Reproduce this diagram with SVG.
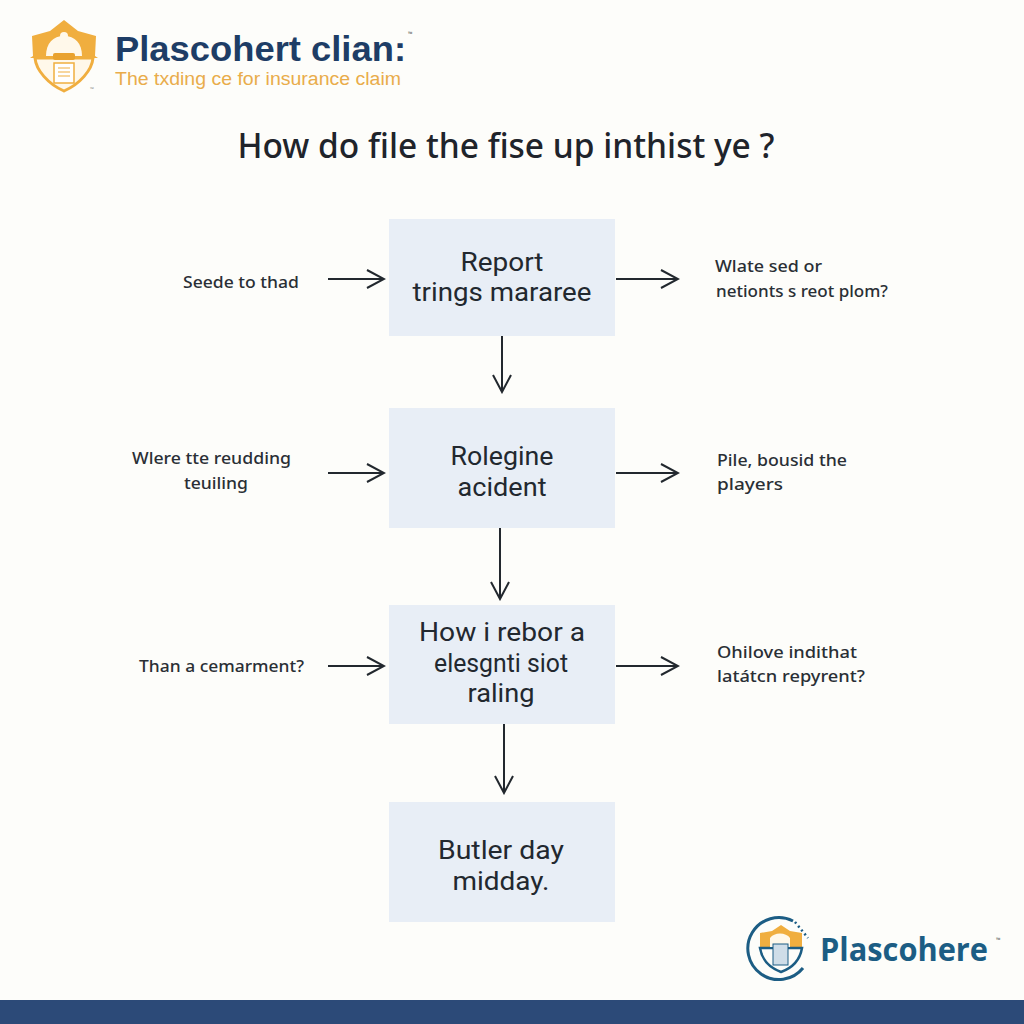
<svg xmlns="http://www.w3.org/2000/svg" width="1024" height="1024" viewBox="0 0 1024 1024">
<defs>
<marker id="arr" viewBox="0 0 20 20" refX="18" refY="10" markerWidth="20" markerHeight="20" markerUnits="userSpaceOnUse" orient="auto"><path d="M1 1 L18 10 L1 19" fill="none" stroke="#22282e" stroke-width="2"/></marker>
</defs>
<style>
text{font-family:"Noto Sans","Liberation Sans",sans-serif;fill:#262c33}
.box{fill:#e8eef6}
.bt{font-family:Roboto,"Liberation Sans",sans-serif;font-size:26px;text-anchor:middle;fill:#22282f}
.lb{font-size:17px;font-weight:500;fill:#2a2f35}
.c{fill:none;stroke:#22282e;stroke-width:2;marker-end:url(#arr)}
.go{fill:#f0ae3f}
</style>
<rect width="1024" height="1024" fill="#fdfdfa"/>
<g id="logo-top">
<path class="go" d="M64 20 L78 31 L96 36 L95 56 L98 58 L30 58 L33 56 L32 36 L50 31 Z"/>
<path d="M35 58 L93 58 C92 70 80 84 64 91 C48 84 36 70 35 58 Z" fill="#fff8ea" stroke="#f0ae3f" stroke-width="3"/>
<path d="M46 56 C46 43 53 36 64 36 C75 36 82 43 82 56 Z" fill="#fff8ea"/>
<circle cx="64" cy="36" r="4" fill="#fff8ea"/>
<rect x="53" y="53" width="22" height="7" rx="2" fill="#e9a22f"/>
<rect x="54" y="63" width="20" height="20" fill="#fff" stroke="#f0ae3f" stroke-width="1.5"/>
<path d="M58 68H70M58 72H70M58 76H70" stroke="#f0ae3f" stroke-width="1.2"/>
<text x="115" y="61" style="font-family:'Liberation Sans',Arial,sans-serif;font-size:35px;font-weight:700;fill:#1e3d66" textLength="291" lengthAdjust="spacingAndGlyphs">Plascohert clian:</text>
<text x="408" y="36" style="font-size:6px;fill:#555">™</text>
<text x="115" y="85" style="font-family:'Liberation Sans',Arial,sans-serif;font-size:18px;fill:#e9ac4a" textLength="286" lengthAdjust="spacingAndGlyphs">The txding ce for insurance claim</text>
<text x="90" y="91" style="font-size:5px;fill:#888">™</text>
</g>
<text id="title" x="506" y="158" style="font-size:34px;font-weight:500;text-anchor:middle;fill:#1f242b" textLength="537" lengthAdjust="spacingAndGlyphs">How do file the fise up inthist ye ?</text>
<g id="connectors">
<path class="c" d="M328 279H384"/><path class="c" d="M616 279H678"/><path class="c" d="M502 334V392"/>
<path class="c" d="M328 473H384"/><path class="c" d="M616 473H678"/><path class="c" d="M500 527V599"/>
<path class="c" d="M328 666H384"/><path class="c" d="M616 666H678"/><path class="c" d="M504 724V793"/>
</g>
<g id="node-1"><rect class="box" x="389" y="219" width="226" height="117"/>
<text class="bt" x="502" y="271" textLength="83" lengthAdjust="spacingAndGlyphs">Report</text><text class="bt" x="502" y="301" textLength="179" lengthAdjust="spacingAndGlyphs">trings mararee</text></g>
<g id="node-2"><rect class="box" x="389" y="408" width="226" height="120"/>
<text class="bt" x="502" y="465" textLength="103" lengthAdjust="spacingAndGlyphs">Rolegine</text><text class="bt" x="502" y="496" textLength="89" lengthAdjust="spacingAndGlyphs">acident</text></g>
<g id="node-3"><rect class="box" x="389" y="605" width="226" height="119"/>
<text class="bt" x="502" y="641" textLength="166" lengthAdjust="spacingAndGlyphs">How i rebor a</text><text class="bt" x="501" y="672" textLength="134" lengthAdjust="spacingAndGlyphs">elesgnti siot</text><text class="bt" x="501" y="702" textLength="67" lengthAdjust="spacingAndGlyphs">raling</text></g>
<g id="node-4"><rect class="box" x="389" y="802" width="226" height="120"/>
<text class="bt" x="501" y="859" textLength="126" lengthAdjust="spacingAndGlyphs">Butler day</text><text class="bt" x="501" y="890" textLength="97" lengthAdjust="spacingAndGlyphs">midday.</text></g>
<g id="labels-left">
<text class="lb" x="183" y="288" textLength="116" lengthAdjust="spacingAndGlyphs">Seede to thad</text>
<text class="lb" x="132" y="464" textLength="159" lengthAdjust="spacingAndGlyphs">Wlere tte reudding</text>
<text class="lb" x="184" y="489" textLength="64" lengthAdjust="spacingAndGlyphs">teuiling</text>
<text class="lb" x="139" y="672" textLength="165" lengthAdjust="spacingAndGlyphs">Than a cemarment?</text>
</g>
<g id="labels-right">
<text class="lb" x="715" y="272" textLength="107" lengthAdjust="spacingAndGlyphs">Wlate sed or</text><text class="lb" x="716" y="297" textLength="172" lengthAdjust="spacingAndGlyphs">netionts s reot plom?</text>
<text class="lb" x="717" y="466" textLength="130" lengthAdjust="spacingAndGlyphs">Pile, bousid the</text><text class="lb" x="717" y="490" textLength="66" lengthAdjust="spacingAndGlyphs">players</text>
<text class="lb" x="717" y="658" textLength="140" lengthAdjust="spacingAndGlyphs">Ohilove indithat</text><text class="lb" x="717" y="682" textLength="148" lengthAdjust="spacingAndGlyphs">latátcn repyrent?</text>
</g>
<g id="logo-bottom">
<path d="M793 921 A31 31 0 1 0 803 968" fill="none" stroke="#1c5d84" stroke-width="3"/>
<path d="M795 922 L808 938" stroke="#1c5d84" stroke-width="2.5" stroke-dasharray="2 3"/>
<path class="go" d="M781 925 L790 931 L802 933 L802 948 L760 948 L760 933 L772 931 Z"/>
<path d="M760 948 L802 948 C800 960 792 968 781 972 C770 968 762 960 760 948 Z" fill="#fdfdfa" stroke="#1c5d84" stroke-width="2.5"/>
<path d="M770 947 V938 C774 932 786 932 790 938 V947 Z" fill="#fff8ea"/>
<rect x="773" y="944" width="15" height="21" fill="#cfdde8" stroke="#1c5d84" stroke-width="1"/>
<text x="820" y="961" style="font-family:'Open Sans','Noto Sans',sans-serif;font-size:32px;font-weight:700;fill:#1c5d84" textLength="168" lengthAdjust="spacingAndGlyphs">Plascohere</text>
<text x="996" y="942" style="font-size:6px;fill:#555">™</text>
</g>
<rect id="footer" x="0" y="1000" width="1024" height="24" fill="#2c4a78"/>
</svg>
